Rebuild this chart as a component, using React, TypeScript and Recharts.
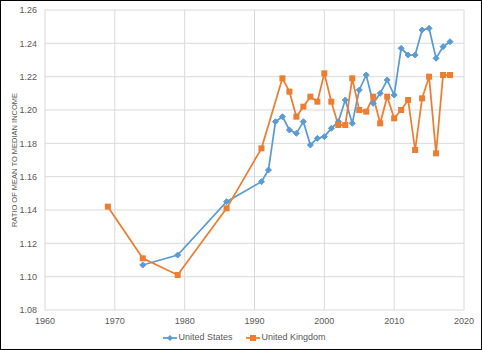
import {
    LineChart,
    Line,
    XAxis,
    YAxis,
    CartesianGrid,
    Legend,
} from "recharts";

const usYears = [
    1974, 1979, 1986, 1991, 1992, 1993, 1994, 1995, 1996, 1997, 1998, 1999,
    2000, 2001, 2002, 2003, 2004, 2005, 2006, 2007, 2008, 2009, 2010, 2011,
    2012, 2013, 2014, 2015, 2016, 2017, 2018,
];
const usValues = [
    1.107, 1.113, 1.145, 1.157, 1.164, 1.193, 1.196, 1.188, 1.186, 1.193,
    1.179, 1.183, 1.184, 1.189, 1.193, 1.206, 1.192, 1.212, 1.221, 1.204,
    1.21, 1.218, 1.209, 1.237, 1.233, 1.233, 1.248, 1.249, 1.231, 1.238,
    1.241,
];

const ukYears = [
    1969, 1974, 1979, 1986, 1991, 1994, 1995, 1996, 1997, 1998, 1999, 2000,
    2001, 2002, 2003, 2004, 2005, 2006, 2007, 2008, 2009, 2010, 2011, 2012,
    2013, 2014, 2015, 2016, 2017, 2018,
];
const ukValues = [
    1.142, 1.111, 1.101, 1.141, 1.177, 1.219, 1.211, 1.196, 1.202, 1.208,
    1.205, 1.222, 1.205, 1.191, 1.191, 1.219, 1.2, 1.199, 1.208, 1.192,
    1.208, 1.195, 1.2, 1.206, 1.176, 1.207, 1.22, 1.174, 1.221, 1.221,
];

const xTicks = [1960, 1970, 1980, 1990, 2000, 2010, 2020];
const yTicks = [1.08, 1.1, 1.12, 1.14, 1.16, 1.18, 1.2, 1.22, 1.24, 1.26];

const BLUE = "#5B9BD5";
const ORANGE = "#ED7D31";
const FONT = "'Liberation Sans', Arial, sans-serif";

const usData = usYears.map((year, i) => ({ year, value: usValues[i] }));
const ukData = ukYears.map((year, i) => ({ year, value: ukValues[i] }));

const Diamond = (props: any) => {
    const { cx, cy } = props;
    if (cx == null || cy == null) return null;
    const s = 3;
    return (
        <polygon
            points={`${cx},${cy - s} ${cx + s},${cy} ${cx},${cy + s} ${cx - s},${cy}`}
            fill={BLUE}
            stroke={BLUE}
        />
    );
};

const Square = (props: any) => {
    const { cx, cy } = props;
    if (cx == null || cy == null) return null;
    return <rect x={cx - 3} y={cy - 3} width={6} height={6} fill={ORANGE} />;
};

const LegendBox = () => {
    const item = (label: string, color: string, square: boolean) => (
        <span
            style={{ display: "inline-flex", alignItems: "center", margin: "0 7px" }}
        >
            <svg width={14} height={8}>
                <line x1={0} y1={4} x2={14} y2={4} stroke={color} strokeWidth={1.75} />
                {square ? (
                    <rect x={4} y={1} width={6} height={6} fill={color} />
                ) : (
                    <polygon points="7,1 10,4 7,7 4,4" fill={color} />
                )}
            </svg>
            <span style={{ marginLeft: 1 }}>{label}</span>
        </span>
    );
    return (
        <div
            style={{
                textAlign: "center",
                fontFamily: FONT,
                fontSize: 9,
                color: "#595959",
                paddingTop: 7,
                paddingLeft: 14,
                lineHeight: "11px",
            }}
        >
            {item("United States", BLUE, false)}
            {item("United Kingdom", ORANGE, true)}
        </div>
    );
};

const App = () => {
    return (
        <div
            style={{
                position: "absolute",
                left: 0,
                top: 0,
                width: 482,
                height: 350,
                boxSizing: "border-box",
                border: "1px solid #000",
                background: "#fff",
            }}
        >
            <LineChart
                width={480}
                height={348}
                margin={{ top: 9, right: 17, left: 10, bottom: 0 }}
                style={{ fontFamily: FONT }}
            >
                <CartesianGrid stroke="#d9d9d9" />
                <XAxis
                    type="number"
                    dataKey="year"
                    domain={[1960, 2020]}
                    ticks={xTicks}
                    axisLine={false}
                    tickLine={false}
                    height={15}
                    tick={{ fontSize: 9, fill: "#595959" }}
                />
                <YAxis
                    type="number"
                    domain={[1.08, 1.26]}
                    ticks={yTicks}
                    width={34}
                    axisLine={false}
                    tickLine={false}
                    tickFormatter={(v: number) => v.toFixed(2)}
                    tick={{ fontSize: 9, fill: "#595959" }}
                    label={{
                        value: "RATIO OF MEAN TO MEDIAN INCOME",
                        angle: -90,
                        position: "insideLeft",
                        offset: 3,
                        style: {
                            textAnchor: "middle",
                            fontSize: 7.5,
                            fill: "#595959",
                        },
                    }}
                />
                <Legend verticalAlign="bottom" height={24} content={<LegendBox />} />
                <Line
                    data={usData}
                    dataKey="value"
                    name="United States"
                    stroke={BLUE}
                    strokeWidth={1.75}
                    dot={<Diamond />}
                    activeDot={false}
                    isAnimationActive={false}
                />
                <Line
                    data={ukData}
                    dataKey="value"
                    name="United Kingdom"
                    stroke={ORANGE}
                    strokeWidth={1.75}
                    dot={<Square />}
                    activeDot={false}
                    isAnimationActive={false}
                />
            </LineChart>
        </div>
    );
};

export default App;
